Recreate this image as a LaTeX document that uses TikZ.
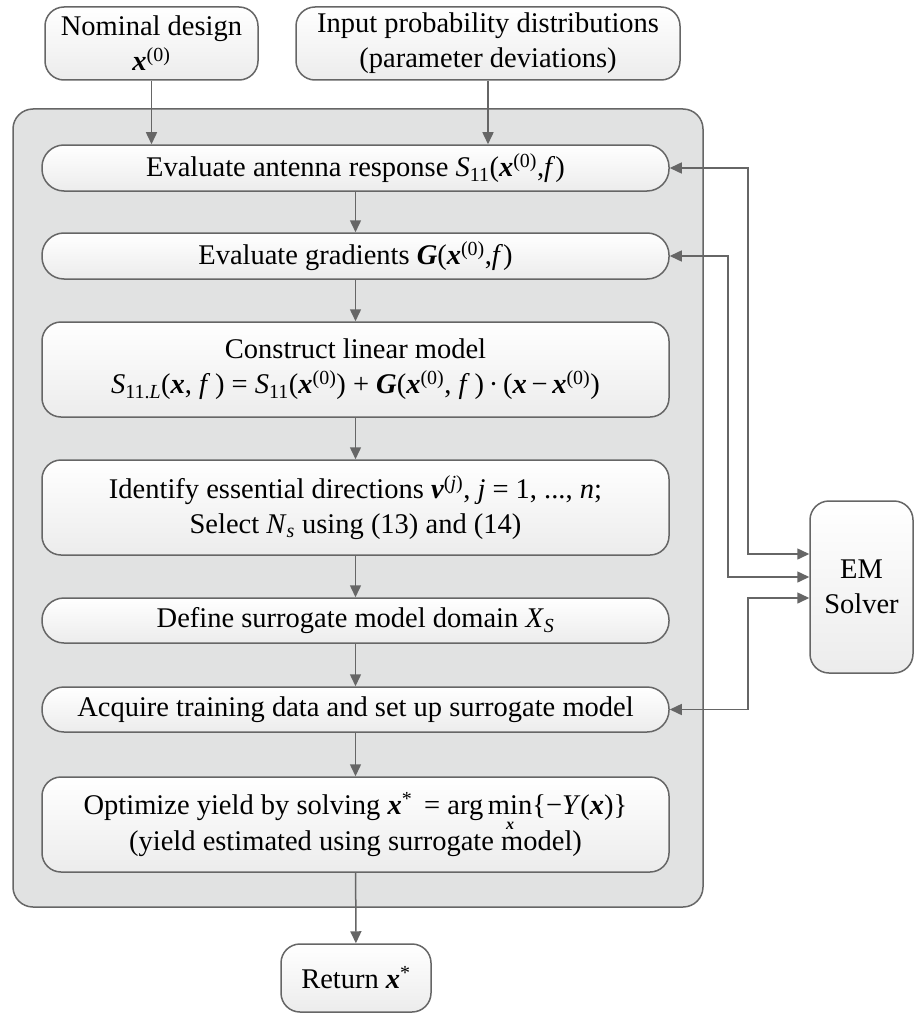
\documentclass[tikz,border=0pt]{standalone}
\usepackage{fontspec}
\setmainfont{Liberation Serif}
\usetikzlibrary{arrows.meta,calc}
\definecolor{ln}{HTML}{666666}
\definecolor{pan}{HTML}{E1E2E2}
\definecolor{boxbot}{HTML}{ECECEC}
\newcommand{\bx}{\textbf{\textit{x}}}
\newcommand{\bG}{\textbf{\textit{G}}}
\newcommand{\bv}{\textbf{\textit{v}}}
\newcommand{\minx}{\ooalign{min\cr\hidewidth\raisebox{-0.55em}{\fontsize{16}{16}\selectfont\bx}\hidewidth\cr}}
\tikzset{
 box/.style={draw=ln, line width=1.5pt, top color=white, bottom color=boxbot, align=center, inner sep=0pt, font=\fontsize{28.5}{35}\selectfont},
 pill/.style={box, rounded corners=22pt},
 rbox/.style={box, rounded corners=19pt},
 arr/.style={draw=ln, line width=1.5pt, -{Triangle[length=12pt,width=11pt]}},
 biarr/.style={draw=ln, line width=1.5pt, {Triangle[length=12pt,width=11pt]}-{Triangle[length=12pt,width=11pt]}},
 panel/.style={draw=ln, fill=pan, line width=1.5pt, rounded corners=20pt},
}
\begin{document}
\begin{tikzpicture}[x=1pt,y=-1pt]
\useasboundingbox (0,0) rectangle (914,1014);
\fill[white] (0,0) rectangle (914,1014);
\draw[panel] (13,109) rectangle (703,907);
\node[rbox, minimum width=213pt, minimum height=73pt] (nom) at (151.5,43.5) {Nominal design\\\bx\textsuperscript{(0)}};
\node[rbox, minimum width=384pt, minimum height=73pt] (inp) at (488,43.5) {Input probability distributions\\(parameter deviations)};
\node[pill, minimum width=627pt, minimum height=46pt] (eval) at (355.5,168) {Evaluate antenna response \textit{S}\textsubscript{11}(\bx\textsuperscript{(0)},\textit{f})};
\node[pill, minimum width=627pt, minimum height=46pt] (grad) at (355.5,256) {Evaluate gradients \bG(\bx\textsuperscript{(0)},\textit{f})};
\node[rbox, minimum width=627pt, minimum height=95pt] (lin) at (355.5,369.5) {Construct linear model\\\textit{S}\textsubscript{11.\textit{L}}(\bx, \textit{f}\,) = \textit{S}\textsubscript{11}(\bx\textsuperscript{(0)}) + \bG(\bx\textsuperscript{(0)}, \textit{f}\,)\,·\,(\bx\,−\,\bx\textsuperscript{(0)})};
\node[rbox, minimum width=627pt, minimum height=95pt] (ident) at (355.5,507.5) {Identify essential directions \bv\textsuperscript{(\textit{j})}, \textit{j} = 1, ..., \textit{n};\\Select \textit{N}\textsubscript{\textit{s}} using (13) and (14)};
\node[pill, minimum width=627pt, minimum height=45pt] (def) at (355.5,620.5) {Define surrogate model domain \textit{X}\textsubscript{\textit{S}}};
\node[pill, minimum width=627pt, minimum height=45pt] (acq) at (355.5,709.5) {Acquire training data and set up surrogate model};
\node[rbox, minimum width=627pt, minimum height=95pt] (opt) at (355.5,824.5) {Optimize yield by solving \bx\textsuperscript{*}\, = arg\,\minx\{−\textit{Y}(\bx)\}\\(yield estimated using surrogate model)};
\node[rbox, minimum width=150pt, minimum height=68pt] (ret) at (356,978) {Return \bx\textsuperscript{*}};
\node[rbox, minimum width=103pt, minimum height=172pt] (em) at (861.5,587) {EM\\Solver};
\draw[arr] (nom) -- (nom |- eval.north);
\draw[arr] (inp) -- (inp |- eval.north);
\draw[arr] (eval) -- (grad);
\draw[arr] (grad) -- (lin);
\draw[arr] (lin) -- (ident);
\draw[arr] (ident) -- (def);
\draw[arr] (def) -- (acq);
\draw[arr] (acq) -- (opt);
\draw[arr] (opt) -- (ret);
\draw[biarr] (eval.east) -- ++(78,0) |- ($(em.west)+(0,-33)$);
\draw[biarr] (grad.east) -- ++(58,0) |- ($(em.west)+(0,-10)$);
\draw[biarr] (acq.east) -- ++(78,0) |- ($(em.west)+(0,11)$);
\end{tikzpicture}
\end{document}
